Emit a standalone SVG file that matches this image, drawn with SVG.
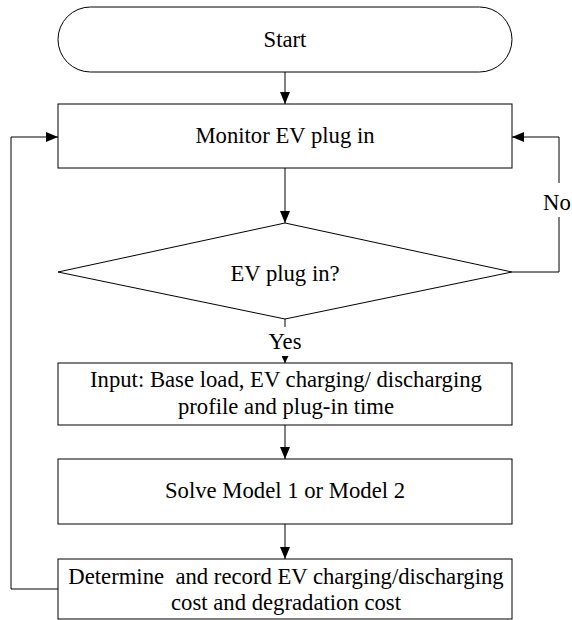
<svg xmlns="http://www.w3.org/2000/svg" width="572" height="620" viewBox="0 0 572 620">
<style>
.box{fill:#fff;stroke:#000;stroke-width:1}
.ln{fill:none;stroke:#000;stroke-width:1}
text{font-family:"Liberation Serif","Times New Roman",serif;font-size:22.7px;fill:#000;white-space:pre}
.c{text-anchor:middle}
</style>
<defs>
<marker id="ah" viewBox="0 0 12 10" refX="12" refY="5" markerWidth="12" markerHeight="10" markerUnits="userSpaceOnUse" orient="auto">
<path d="M0,0 L12,5 L0,10 Z" fill="#000"/>
</marker>
<marker id="ahs" viewBox="0 0 7 7" refX="7" refY="3.5" markerWidth="7" markerHeight="7" markerUnits="userSpaceOnUse" orient="auto">
<path d="M0,0 L7,3.5 L0,7 Z" fill="#000"/>
</marker>
</defs>
<g id="connectors">
<line class="ln" x1="285" y1="72" x2="285" y2="104" marker-end="url(#ah)"/>
<line class="ln" x1="285" y1="168" x2="285" y2="223" marker-end="url(#ah)"/>
<line class="ln" x1="285" y1="319" x2="285" y2="327"/>
<line class="ln" x1="285" y1="356" x2="285" y2="363" marker-end="url(#ahs)"/>
<line class="ln" x1="285" y1="425" x2="285" y2="459" marker-end="url(#ah)"/>
<line class="ln" x1="285" y1="524" x2="285" y2="559" marker-end="url(#ah)"/>
<polyline class="ln" points="58,589 11,589 11,137 58,137" marker-end="url(#ah)"/>
<polyline class="ln" points="512,272 559,272 559,217"/>
<polyline class="ln" points="559,183 559,137 512,137" marker-end="url(#ah)"/>
<text x="285" y="349" class="c">Yes</text>
<text x="543" y="210">No</text>
</g>
<g id="start">
<rect class="box" x="58" y="7" width="454" height="65" rx="32.5" ry="32.5"/>
<text x="285" y="47" class="c">Start</text>
</g>
<g id="monitor">
<rect class="box" x="58" y="104" width="454" height="64"/>
<text x="285" y="143" class="c">Monitor EV plug in</text>
</g>
<g id="decision">
<polygon class="box" points="285,223 512,272 285,319 58,272"/>
<text x="285" y="281" class="c">EV plug in?</text>
</g>
<g id="input">
<rect class="box" x="58" y="363" width="454" height="62"/>
<text x="286" y="387" class="c">Input: Base load, EV charging/ discharging</text>
<text x="286" y="414" class="c">profile and plug-in time</text>
</g>
<g id="solve">
<rect class="box" x="58" y="459" width="454" height="65"/>
<text x="285" y="498" class="c">Solve Model 1 or Model 2</text>
</g>
<g id="determine">
<rect class="box" x="58" y="559" width="454" height="60"/>
<text x="286" y="584" class="c">Determine  and record EV charging/discharging</text>
<text x="286" y="610" class="c">cost and degradation cost</text>
</g>
</svg>
